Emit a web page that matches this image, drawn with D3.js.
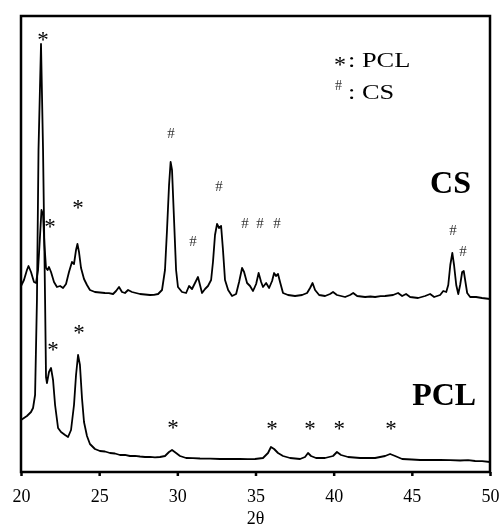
<!DOCTYPE html>
<html>
<head>
<meta charset="utf-8">
<script src="https://cdn.jsdelivr.net/npm/d3@7"></script>
<style>
  body { margin: 0; background: #fff; }
  svg { display: block; will-change: transform; }
</style>
</head>
<body>
<div id="chart"></div>
<script>
// XRD patterns, 2θ (deg) vs intensity (a.u.)
var pclPattern = [
  [20.00,520],[20.38,560],[20.64,600],[20.77,640],[20.90,770],[21.02,1720],[21.12,3220],
  [21.28,4280],[21.41,3220],[21.54,1720],[21.60,950],[21.66,890],[21.79,1000],[21.92,1040],
  [22.05,920],[22.18,670],[22.37,440],[22.56,400],[22.82,370],[23.01,350],[23.20,420],
  [23.39,670],[23.52,970],[23.65,1170],[23.77,1070],[23.90,740],[24.03,500],[24.22,360],
  [24.41,280],[24.73,230],[25.05,210],[25.37,205],[25.69,190],[26.01,185],[26.33,170],
  [26.65,172],[26.97,160],[27.29,162],[27.61,155],[27.93,150],[28.25,152],[28.57,147],
  [28.89,150],[29.21,160],[29.47,200],[29.66,220],[29.92,190],[30.17,160],[30.56,140],
  [31.00,138],[31.45,135],[32.10,133],[32.73,130],[33.40,132],[34.01,130],[34.50,128],
  [34.97,130],[35.48,140],[35.80,190],[35.99,250],[36.19,230],[36.44,190],[36.76,160],
  [37.21,140],[37.85,130],[38.17,150],[38.36,190],[38.55,160],[38.87,140],[39.45,140],
  [39.96,160],[40.21,200],[40.47,170],[40.92,150],[41.30,145],[41.69,140],[42.20,142],
  [42.65,140],[43.29,160],[43.61,180],[43.93,160],[44.38,130],[45.00,125],[45.53,120],
  [46.20,122],[46.81,120],[47.45,118],[48.09,115],[48.60,118],[49.05,110],[49.50,108],[50.00,100]
];

var csOffset = 1700;
var csPattern = [
  [20.00,160],[20.19,220],[20.38,320],[20.48,360],[20.64,300],[20.83,200],[20.96,190],
  [21.09,320],[21.22,670],[21.31,920],[21.41,870],[21.50,570],[21.60,340],[21.70,320],
  [21.79,350],[21.92,300],[22.11,200],[22.30,150],[22.50,160],[22.69,140],[22.88,180],
  [23.07,300],[23.26,400],[23.39,380],[23.52,520],[23.61,580],[23.71,500],[23.84,340],
  [24.03,230],[24.22,170],[24.41,120],[24.73,100],[25.05,95],[25.37,90],[25.62,88],
  [25.89,80],[26.08,110],[26.27,150],[26.46,100],[26.65,90],[26.85,120],[27.10,100],
  [27.35,90],[27.61,80],[27.93,75],[28.25,70],[28.50,72],[28.77,80],[29.02,120],
  [29.21,320],[29.34,720],[29.47,1170],[29.57,1400],[29.66,1320],[29.79,820],[29.92,320],
  [30.04,150],[30.30,100],[30.56,90],[30.75,160],[30.94,130],[31.13,190],[31.32,250],
  [31.45,170],[31.58,90],[31.77,130],[31.96,160],[32.16,220],[32.28,400],[32.41,670],
  [32.54,780],[32.67,740],[32.80,760],[32.92,520],[33.05,220],[33.25,120],[33.50,60],
  [33.76,80],[33.95,200],[34.14,340],[34.27,300],[34.46,190],[34.65,160],[34.84,110],
  [35.04,180],[35.20,290],[35.36,200],[35.48,150],[35.68,190],[35.87,140],[36.06,210],
  [36.19,290],[36.31,260],[36.44,280],[36.57,200],[36.76,90],[37.08,70],[37.53,60],
  [37.98,70],[38.30,90],[38.49,140],[38.65,190],[38.81,120],[39.07,70],[39.45,60],
  [39.77,80],[39.96,100],[40.21,70],[40.73,50],[41.05,70],[41.25,90],[41.50,60],
  [42.01,50],[42.35,55],[42.65,50],[43.00,58],[43.29,60],[43.80,70],[44.12,90],
  [44.38,60],[44.63,80],[44.89,50],[45.40,40],[45.85,60],[46.17,80],[46.43,50],
  [46.81,70],[47.01,110],[47.20,100],[47.33,170],[47.46,370],[47.59,490],[47.70,370],
  [47.84,170],[47.97,80],[48.09,170],[48.22,300],[48.32,310],[48.41,220],[48.54,90],
  [48.73,50],[49.11,50],[49.49,40],[50.00,30]
];

// peak markers: [2θ, label height (a.u.)]
var pclMarks = [
  [21.41,4370],[22.05,1270],[23.71,1440],[29.72,490],[36.06,480],[38.49,480],[40.35,480],[43.67,480],
  [21.86,2500],[23.65,2690]
];
var csMarks = [
  [29.60,3400],[31.00,2320],[32.67,2870],[34.33,2500],[35.29,2500],[36.38,2500],[47.64,2430],[48.28,2220]
];

var xTicks = [20, 25, 30, 35, 40, 45, 50];
var sampleLabels = [["CS", 46.17, 2790], ["PCL", 45.02, 670]];

var W = 499, H = 530;
var margin = {top: 16, right: 9, bottom: 58, left: 21};
var serif = "Liberation Serif, Times New Roman, serif";

var svg = d3.select("#chart").append("svg")
    .attr("width", W)
    .attr("height", H)
    .attr("font-family", serif);

var x = d3.scaleLinear().domain([20, 50]).range([margin.left, W - margin.right]);
var y = d3.scaleLinear().domain([0, 4560]).range([H - margin.bottom, margin.top]);

var line = d3.line()
    .x(function(d) { return x(d[0]); })
    .y(function(d) { return y(d[1]); });

// patterns
svg.append("path")
    .datum(pclPattern)
    .attr("d", line)
    .attr("fill", "none")
    .attr("stroke", "#000")
    .attr("stroke-width", 1.8)
    .attr("stroke-linejoin", "round");

svg.append("path")
    .datum(csPattern.map(function(d) { return [d[0], d[1] + csOffset]; }))
    .attr("d", line)
    .attr("fill", "none")
    .attr("stroke", "#000")
    .attr("stroke-width", 1.8)
    .attr("stroke-linejoin", "round");

// axis
var xAxis = svg.append("g")
    .attr("transform", "translate(0," + (H - margin.bottom) + ")")
    .call(d3.axisBottom(x).tickValues(xTicks).tickSize(4).tickSizeOuter(0).tickFormat(d3.format("d")))
    .attr("font-family", serif)
    .attr("font-size", 18);

xAxis.select(".domain").remove();
xAxis.selectAll(".tick line").attr("stroke-width", 2.5);
xAxis.selectAll(".tick text")
    .attr("y", 30)
    .attr("dy", 0)
    .attr("fill", "#000");

// frame
svg.append("rect")
    .attr("x", margin.left)
    .attr("y", margin.top)
    .attr("width", W - margin.left - margin.right)
    .attr("height", H - margin.top - margin.bottom)
    .attr("fill", "none")
    .attr("stroke", "#000")
    .attr("stroke-width", 2.5);

svg.append("text")
    .attr("x", (x(20) + x(50)) / 2)
    .attr("y", 524)
    .attr("text-anchor", "middle")
    .attr("font-size", 18)
    .text("2θ");

// markers
svg.selectAll(".star")
    .data(pclMarks)
  .enter().append("text")
    .attr("class", "star")
    .attr("x", function(d) { return x(d[0]); })
    .attr("y", function(d) { return y(d[1]) + 12; })
    .attr("text-anchor", "middle")
    .attr("font-size", 23)
    .attr("fill", "#000")
    .text("*");

svg.selectAll(".hash")
    .data(csMarks)
  .enter().append("text")
    .attr("class", "hash")
    .attr("x", function(d) { return x(d[0]); })
    .attr("y", function(d) { return y(d[1]) + 5.5; })
    .attr("text-anchor", "middle")
    .attr("font-size", 15)
    .attr("fill", "#333")
    .text("#");

// sample labels
svg.selectAll(".sample")
    .data(sampleLabels)
  .enter().append("text")
    .attr("class", "sample")
    .attr("x", function(d) { return x(d[1]); })
    .attr("y", function(d) { return y(d[2]); })
    .attr("font-size", 32)
    .attr("font-weight", "bold")
    .text(function(d) { return d[0]; });

// legend (glyphs in the original are a little wide)
var legend = svg.append("g");
legend.append("text").attr("x", 334).attr("y", 72).attr("font-size", 24).text("*");
legend.append("text").attr("transform", "translate(348,67) scale(1.2,1)")
    .attr("font-size", 22).text(": PCL");
legend.append("text").attr("x", 335).attr("y", 90).attr("font-size", 14).attr("fill", "#333").text("#");
legend.append("text").attr("transform", "translate(348,99) scale(1.2,1)")
    .attr("font-size", 22).text(": CS");
</script>
</body>
</html>
